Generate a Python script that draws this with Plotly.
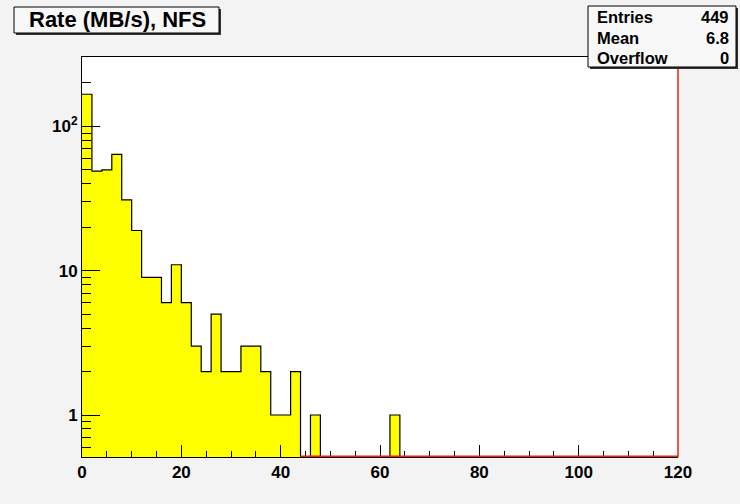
import numpy as np
import plotly.graph_objects as go

# ---- data ----
bin_width = 2
bin_edges = list(range(0, 122, 2))  # 0..120
counts = [167, 49, 50, 64, 31, 19, 9, 9, 6, 11,
          6, 3, 2, 5, 2, 2, 3, 3, 2, 1,
          1, 2, 0, 1, 0, 0, 0, 0, 0, 0,
          0, 1, 0, 0, 0, 0, 0, 0, 0, 0,
          0, 0, 0, 0, 0, 0, 0, 0, 0, 0,
          0, 0, 0, 0, 0, 0, 0, 0, 0, 0]
title_text = "Rate (MB/s), NFS"
stats_labels = ["Entries", "Mean", "Overflow"]
stats_values = ["449", "6.8", "0"]
x_ticks = [0, 20, 40, 60, 80, 100, 120]
y_ticks = [1, 10, 100]
y_ticktext = ["1", "10", "10<sup>2</sup>"]

# ---- geometry ----
W, H = 740, 504
L, R, T, B = 82, 62, 57, 47
pw = W - L - R
ph = H - T - B
x_range = [0, 120]
y_range = [-0.291, 2.481]
floor_val = 10 ** (y_range[0] - 0.3)

def px2x(px):
    return (px - L) / pw

def py2y(py):
    return (H - B - py) / ph

def data2paper_x(v):
    return (v - x_range[0]) / (x_range[1] - x_range[0])

centers = [bin_edges[i] + bin_width / 2 for i in range(len(counts))]
bar_y = [c if c > 0 else None for c in counts]

last = max(i for i, c in enumerate(counts) if c > 0) + 1
step_x = bin_edges[:last] + [bin_edges[last], bin_edges[last]]
step_y = [c if c > 0 else floor_val for c in counts[:last]] + [floor_val, floor_val]

fig = go.Figure()
fig.add_trace(go.Bar(x=centers, y=bar_y, width=bin_width,
                     marker=dict(color="#ffff00", line=dict(width=0)),
                     hoverinfo="skip"))
fig.add_trace(go.Scatter(x=step_x, y=step_y, mode="lines",
                         line=dict(color="black", width=1.2, shape="hv"),
                         hoverinfo="skip"))

# red empty-line along the bottom and right edge
empty_start = bin_edges[22]
fig.add_shape(type="line", xref="paper", yref="paper",
              x0=data2paper_x(empty_start), x1=1.0, y0=0.002, y1=0.002,
              line=dict(color="#f01e14", width=1.5), layer="above")
fig.add_shape(type="line", xref="paper", yref="paper", x0=1.0, x1=1.0,
              y0=0, y1=1, line=dict(color="#f01e14", width=1.5), layer="above")

minor_y = [0.6, 0.7, 0.8, 0.9] + [k for k in range(2, 10)] + [k * 10 for k in range(2, 10)] + [200, 300]

tick_font = dict(size=17, family="Liberation Sans, Arial", weight="bold", color="black")

fig.update_layout(
    width=W, height=H,
    margin=dict(l=L, r=R, t=T, b=B),
    paper_bgcolor="#f3f3f3",
    plot_bgcolor="white",
    showlegend=False,
    bargap=0,
    font=dict(family="Liberation Sans, Arial, sans-serif", color="black"),
    xaxis=dict(range=x_range, tickvals=x_ticks, ticks="inside", ticklen=12, tickwidth=1,
               tickcolor="black", showgrid=False, zeroline=False,
               showline=True, linecolor="black", linewidth=1, mirror=True,
               tickfont=tick_font,
               minor=dict(tickvals=[v for v in range(5, 120, 5) if v % 20], ticks="inside",
                          ticklen=6, tickcolor="black", showgrid=False)),
    yaxis=dict(type="log", range=y_range, tickvals=y_ticks, ticktext=y_ticktext,
               ticks="inside", ticklen=18, tickwidth=1, tickcolor="black",
               showgrid=False, zeroline=False,
               showline=True, linecolor="black", linewidth=1, mirror=False,
               tickfont=tick_font,
               minor=dict(tickvals=minor_y, ticks="inside", ticklen=9,
                          tickcolor="black", showgrid=False)),
)

def box(x0, y0, x1, y1):
    fig.add_shape(type="rect", xref="paper", yref="paper",
                  x0=px2x(x0 + 2), x1=px2x(x1 + 2), y0=py2y(y1 + 2), y1=py2y(y0 + 2),
                  fillcolor="#333333", line=dict(width=0), layer="above")
    fig.add_shape(type="rect", xref="paper", yref="paper",
                  x0=px2x(x0), x1=px2x(x1), y0=py2y(y1), y1=py2y(y0),
                  fillcolor="#f8f8f8", line=dict(color="black", width=1), layer="above")

box(14, 7, 219, 33)
fig.add_annotation(xref="paper", yref="paper", x=px2x(117), y=py2y(20),
                   text="<b>" + title_text + "</b>", showarrow=False,
                   font=dict(size=22, family="Liberation Sans, Arial"),
                   xanchor="center", yanchor="middle")

box(588, 6, 736, 67)
rows_y = [17, 38, 58]
for lab, val, ry in zip(stats_labels, stats_values, rows_y):
    fig.add_annotation(xref="paper", yref="paper", x=px2x(595), y=py2y(ry),
                       text="<b>" + lab + "</b>", showarrow=False,
                       font=dict(size=16.5, family="Liberation Sans, Arial"),
                       xanchor="left", yanchor="middle")
    fig.add_annotation(xref="paper", yref="paper", x=px2x(731), y=py2y(ry),
                       text="<b>" + val + "</b>", showarrow=False,
                       font=dict(size=16.5, family="Liberation Sans, Arial"),
                       xanchor="right", yanchor="middle")

fig.write_html("out.html", config={"displayModeBar": False},
               post_script="document.body.style.margin='0';document.body.style.padding='0';")
